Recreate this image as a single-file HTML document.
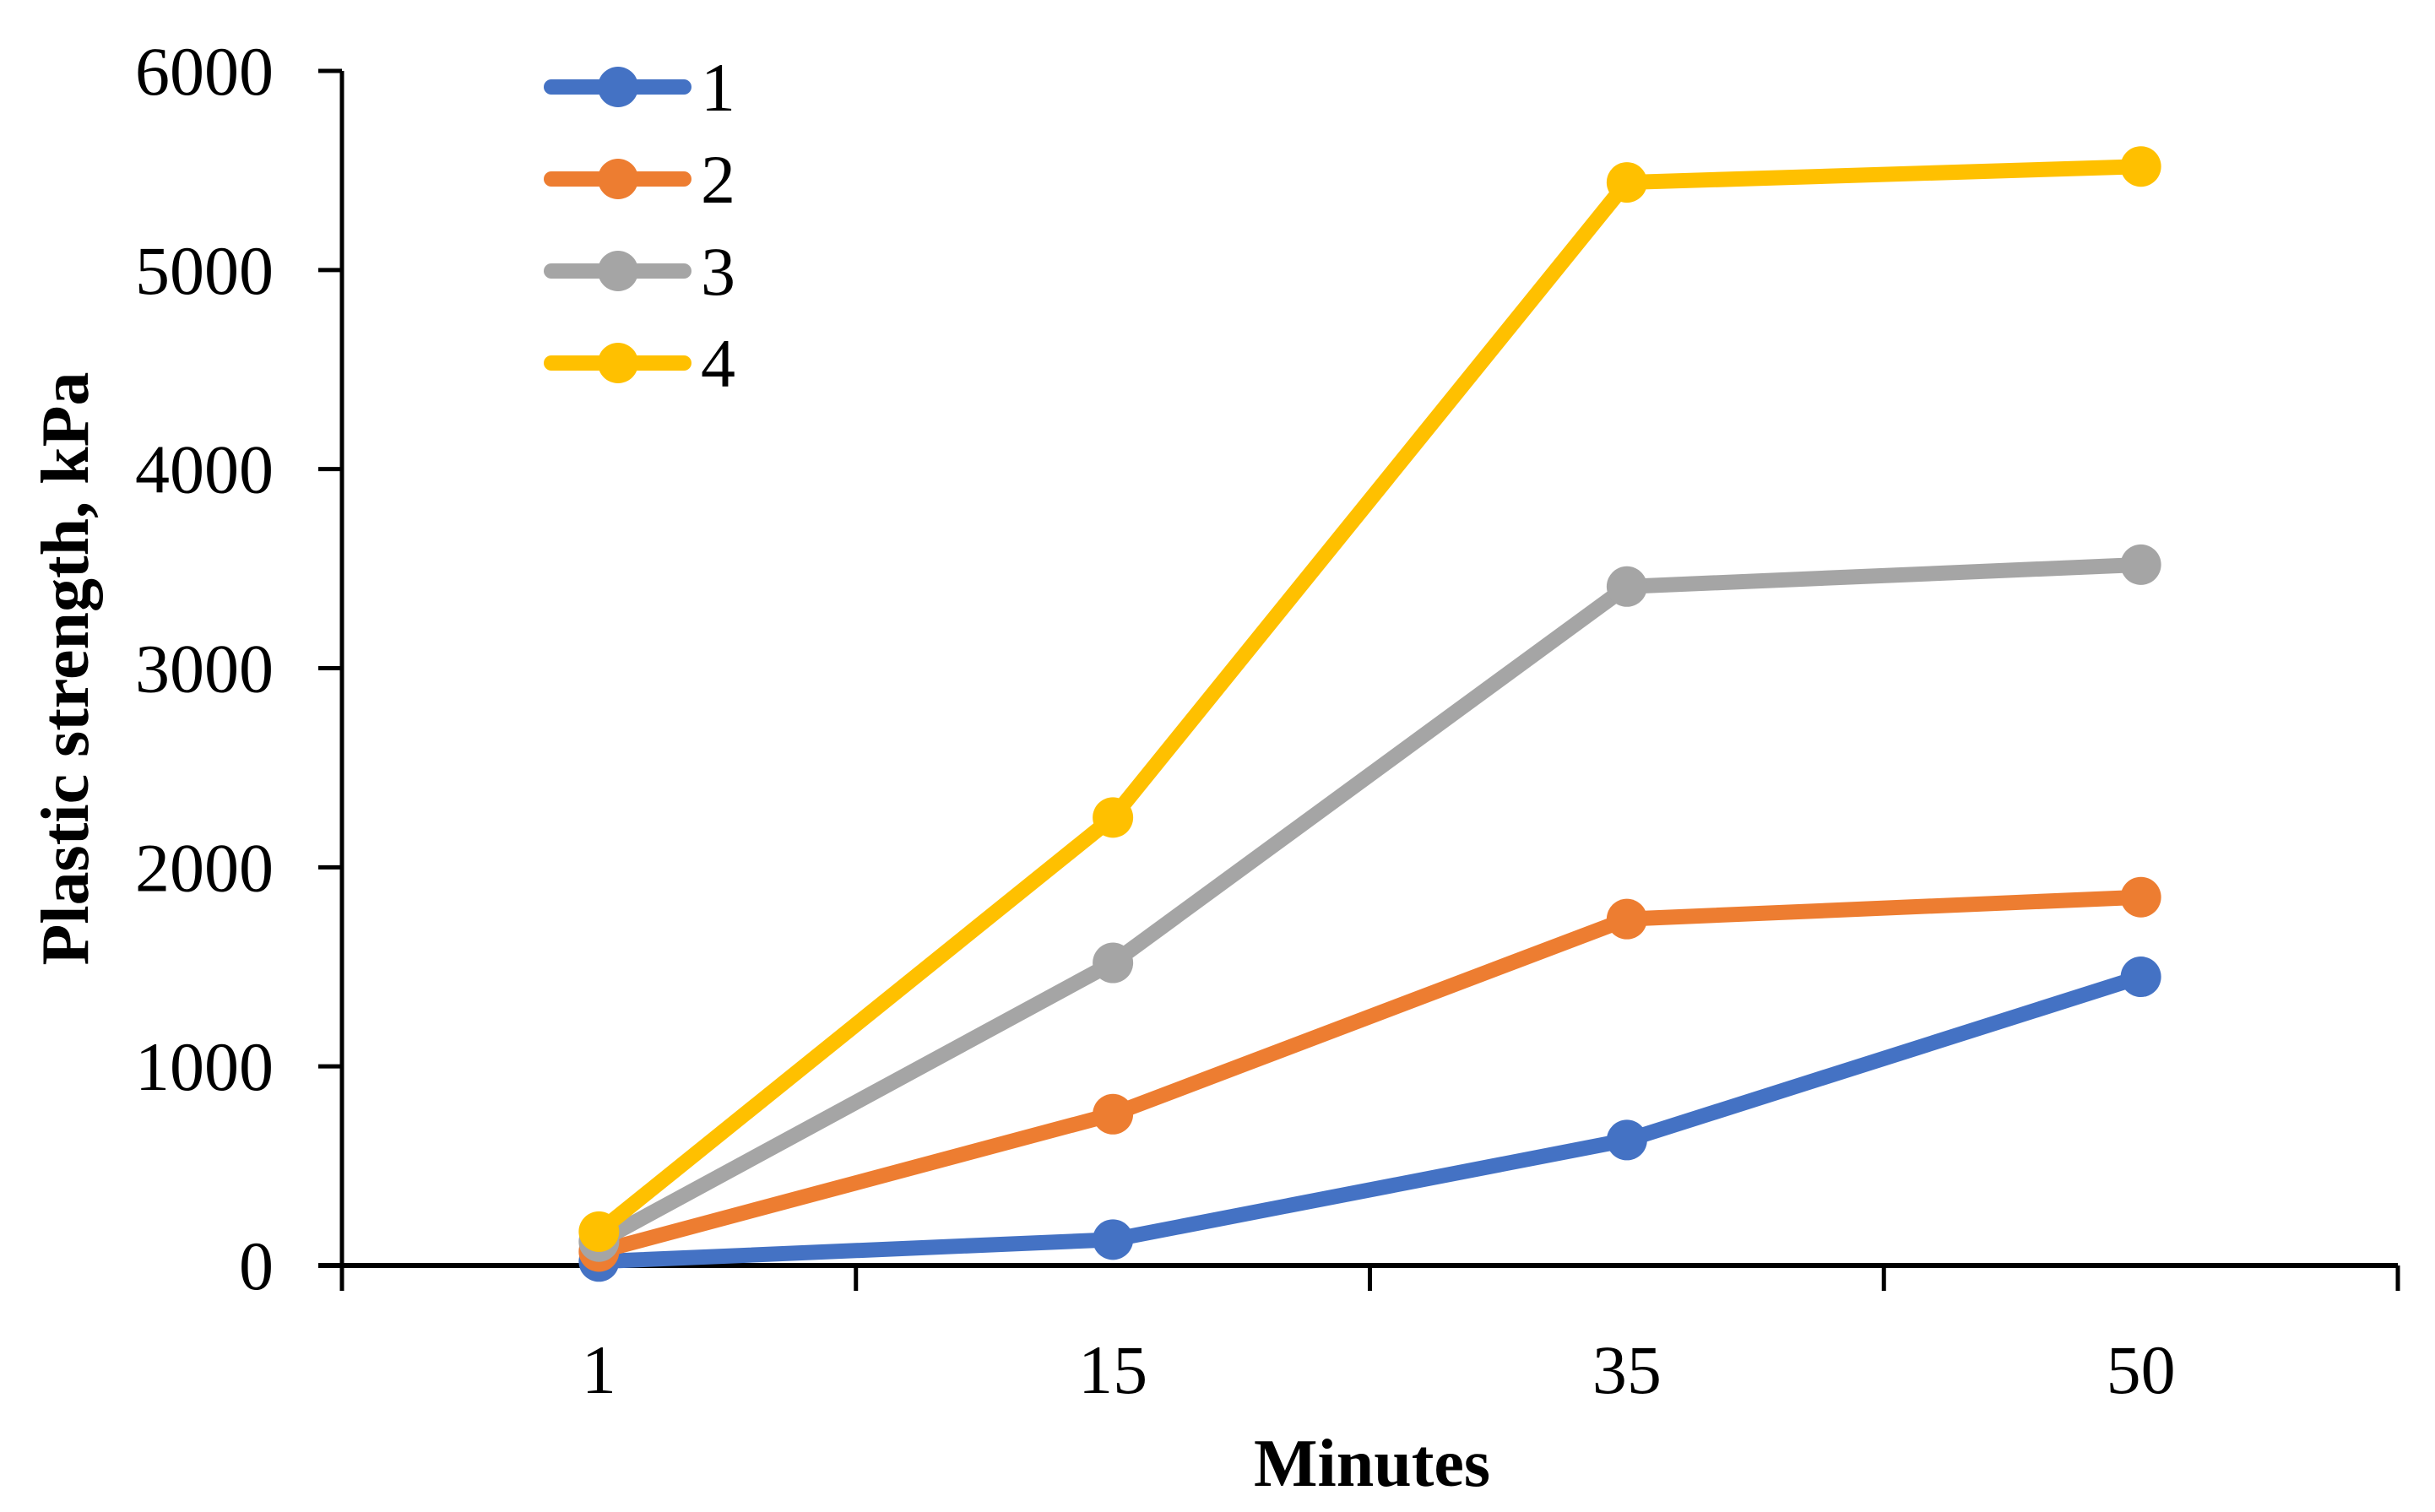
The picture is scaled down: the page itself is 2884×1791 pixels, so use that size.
<!DOCTYPE html>
<html><head><meta charset="utf-8"><style>
html,body{margin:0;padding:0;background:#fff;}
svg{display:block;}
text{font-family:"Liberation Serif",serif;fill:#000;}
</style></head><body>
<svg id="chart" width="2884" height="1791" viewBox="0 0 2884 1791" xmlns="http://www.w3.org/2000/svg">
<g id="axes"></g>
<g id="series"></g>
<g id="legend"></g>
<text x="1625" y="1760" font-size="80" font-weight="bold" text-anchor="middle">Minutes</text>
<text x="0" y="0" font-size="80" font-weight="bold" text-anchor="middle" transform="translate(104,792) rotate(-90)">Plastic strength, kPa</text>
</svg>
<script>
const categories = ["1","15","35","50"];
const yTicks = [0,1000,2000,3000,4000,5000,6000];
const seriesNames = ["1","2","3","4"];
const s1 = [20,130,630,1450];
const s2 = [70,760,1740,1850];
const s3 = [120,1520,3410,3520];
const s4 = [170,2250,5440,5520];
const colors = ["#4472C4","#ED7D31","#A5A5A5","#FFC000"];

{
const NS="http://www.w3.org/2000/svg";
const plotLeft=405, plotRight=2840, plotTop=84, plotBottom=1499, yMax=6000;
const band=(plotRight-plotLeft)/categories.length;
const xPos=i=>plotLeft+band*(i+0.5);
const yPos=v=>plotBottom-(v/yMax)*(plotBottom-plotTop);
function mk(tag,attrs,parent){const e=document.createElementNS(NS,tag);for(const k in attrs)e.setAttribute(k,attrs[k]);parent.appendChild(e);return e;}
const axes=document.getElementById('axes');
let yl=mk('line',{x1:plotLeft,y1:plotTop,x2:plotLeft,y2:plotBottom,stroke:'#000','stroke-width':5},axes);


yTicks.forEach(t=>{
  const tk=mk('line',{x1:plotLeft-28,y1:yPos(t),x2:plotLeft,y2:yPos(t),stroke:'#000','stroke-width':5},axes);
  
  
  const tx=mk('text',{x:324,y:yPos(t)+28,'font-size':82,'text-anchor':'end'},axes);
  tx.textContent=t;
  
  
});
let xl=mk('line',{x1:plotLeft-28,y1:plotBottom,x2:plotRight,y2:plotBottom,stroke:'#000','stroke-width':6},axes);


for(let i=0;i<=categories.length;i++){
  const x=plotLeft+band*i;
  const tk=mk('line',{x1:x,y1:plotBottom,x2:x,y2:plotBottom+30,stroke:'#000','stroke-width':5},axes);
  
  
}
categories.forEach((c,i)=>{
  const tx=mk('text',{x:xPos(i),y:1650,'font-size':82,'text-anchor':'middle'},axes);
  tx.textContent=c;
  
  
});
const sg=document.getElementById('series');
[s1,s2,s3,s4].forEach((s,si)=>{
  const g=mk('g',{},sg);
  
  
  const pl=mk('polyline',{points:s.map((v,i)=>xPos(i)+','+yPos(v)).join(' '),fill:'none',stroke:colors[si],'stroke-width':18,'stroke-linejoin':'round','stroke-linecap':'round'},g);
  
  
  s.forEach((v,i)=>{
    const c=mk('circle',{cx:xPos(i),cy:yPos(v),r:24,fill:colors[si]},g);
    
    
  });
});
const lg=document.getElementById('legend');
const legY=[103,212,321,430];
seriesNames.forEach((n,i)=>{
  const g=mk('g',{},lg);
  
  
  mk('line',{x1:653,y1:legY[i],x2:810,y2:legY[i],stroke:colors[i],'stroke-width':18,'stroke-linecap':'round'},g);
  mk('circle',{cx:732,cy:legY[i],r:24,fill:colors[i]},g);
  const t=mk('text',{x:830,y:legY[i]+28,'font-size':82},g);
  t.textContent=n;
});
}
</script>
</body></html>
